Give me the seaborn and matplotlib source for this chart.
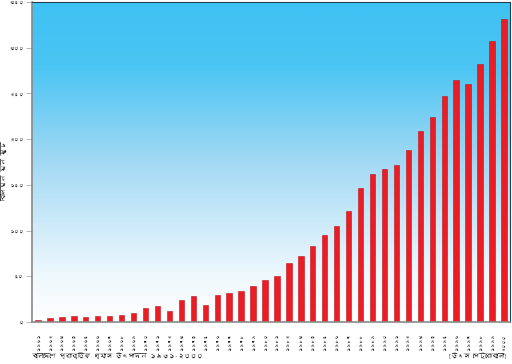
import numpy as np
import pandas as pd
import matplotlib
matplotlib.use('Agg')
import matplotlib.pyplot as plt
from matplotlib import font_manager
from matplotlib.colors import LinearSegmentedColormap
from matplotlib.ft2font import FT2Font
import seaborn as sns

# Natural gas production in Bangladesh, billion cubic feet
years = list(range(1961, 2001))
production = [2, 4, 6, 7, 6, 7, 7, 8, 10, 15,
              17, 12, 24, 28, 19, 29, 32, 34, 39, 46,
              50, 65, 72, 83, 95, 105, 121, 147, 162, 167,
              172, 188, 209, 224, 247, 265, 260, 282, 307, 331]
y_ticks = [0, 50, 100, 150, 200, 250, 300, 350]

bn_digits = str.maketrans('0123456789', '০১২৩৪৫৬৭৮৯')
year_labels = [str(y).translate(bn_digits) for y in years]
y_tick_labels = [str(v).translate(bn_digits) for v in y_ticks]

y_title = 'বিলিয়ন ঘন ফুট'
caption = 'বাংলাদেশে প্রাকৃতিক গ্যাস উৎপাদন ১৯৬১-২০০০'
source = '[উৎস পেট্রোবাংলা]'

# look for any installed font that has Bengali glyphs
bengali_font = None
for f in font_manager.fontManager.ttflist:
    try:
        if 0x09AC in FT2Font(f.fname).get_charmap():
            bengali_font = f.name
            break
    except Exception:
        pass
families = ([bengali_font] if bengali_font else []) + ['DejaVu Sans']

sns.set_theme(style='white')
plt.rcParams['font.family'] = families

df = pd.DataFrame({'year': year_labels, 'value': production})

fig = plt.figure(figsize=(5.12, 3.64), dpi=100)
ax = fig.add_axes([0.0625, 0.1154, 0.9335, 0.879])

# sky gradient background
cmap = LinearSegmentedColormap.from_list(
    'sky', [(0, '#ffffff'), (0.15, '#eef8fd'), (0.5, '#a3d9f4'),
            (0.8, '#4bc5f3'), (1, '#3ec2f3')])
grad = np.linspace(0, 1, 256).reshape(-1, 1)
ax.imshow(grad, extent=[-0.5, 39.5, 0, 350], origin='lower',
          aspect='auto', cmap=cmap, zorder=0)

sns.barplot(data=df, x='year', y='value', color='#ec1c24', width=0.45,
            saturation=1, edgecolor='#b8141c', linewidth=0.4, ax=ax, zorder=2)

ax.set_xlim(-0.5, 39.5)
ax.set_ylim(0, 350)
ax.set_yticks(y_ticks)
ax.set_yticklabels(y_tick_labels, fontsize=3.5, color='#333333')
ax.set_xticks(range(len(years)))
ax.set_xticklabels(year_labels, rotation=90, fontsize=3, color='#222222')
ax.tick_params(axis='y', left=True, length=4.3, width=0.6, color='#aaaaaa', pad=1.5)
ax.tick_params(axis='x', bottom=False, pad=2)
ax.set_xlabel('')
ax.set_ylabel(y_title, fontsize=4.8, color='#222222')
ax.yaxis.set_label_coords(-0.051, 0.47)

for side in ['left', 'bottom']:
    ax.spines[side].set_color('#8a8a8a')
    ax.spines[side].set_linewidth(1.2)
for side in ['top', 'right']:
    ax.spines[side].set_color('#23404f')
    ax.spines[side].set_linewidth(0.8)

fig.text(0.06, 0.018, caption, fontsize=4.5, color='#222222')
fig.text(0.99, 0.018, source, fontsize=4.5, color='#222222', ha='right')

fig.savefig('out.png', dpi=100)
